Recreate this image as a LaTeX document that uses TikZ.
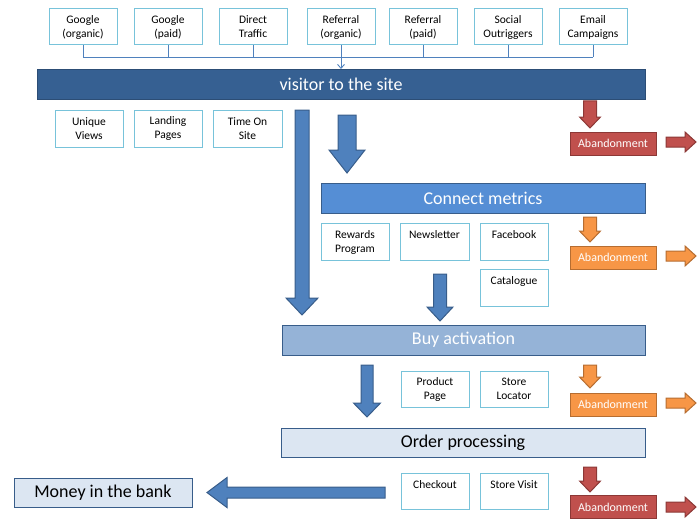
\documentclass[tikz,border=0pt]{standalone}
\usepackage{fontspec}
\setmainfont{Carlito}
\usetikzlibrary{arrows.meta}
\definecolor{darkbar}{RGB}{54,96,146}
\definecolor{darkbord}{RGB}{44,77,117}
\definecolor{arrblue}{RGB}{79,129,189}
\definecolor{arrbord}{RGB}{56,93,138}
\definecolor{connfill}{RGB}{85,142,213}
\definecolor{buyfill}{RGB}{149,179,215}
\definecolor{lightfill}{RGB}{220,230,242}
\definecolor{sbord}{RGB}{120,195,218}
\definecolor{redfill}{RGB}{192,80,77}
\definecolor{redbord}{RGB}{140,56,54}
\definecolor{orfill}{RGB}{247,150,70}
\definecolor{orbord}{RGB}{182,109,49}
\newcommand\bdn[8]{\filldraw[fill=#7,draw=#8,line width=1pt,line join=miter] (#1-#5,#2) -- (#1+#5,#2) -- (#1+#5,#3) -- (#1+#6,#3) -- (#1,#4) -- (#1-#6,#3) -- (#1-#5,#3) -- cycle;}
\newcommand\bhz[8]{\filldraw[fill=#7,draw=#8,line width=1pt,line join=miter] (#1,#4-#5) -- (#2,#4-#5) -- (#2,#4-#6) -- (#3,#4) -- (#2,#4+#6) -- (#2,#4+#5) -- (#1,#4+#5) -- cycle;}
\tikzset{
  sbox/.style={draw=sbord,line width=1pt,fill=white,minimum width=68pt,minimum height=36pt,inner sep=1pt,align=center,font=\fontsize{11.5}{14}\selectfont},
  btxt/.style={inner sep=0pt,align=center,font=\fontsize{11.5}{14}\selectfont,anchor=north},
  bar/.style={line width=1pt,minimum height=30pt,inner sep=0pt,font=\fontsize{18}{21}\selectfont},
  aband/.style={line width=1pt,minimum width=86pt,minimum height=23pt,inner sep=0pt,text=white,font=\fontsize{12}{14}\selectfont},
  conn/.style={draw=arrblue,line width=0.9pt},
}
\begin{document}
\begin{tikzpicture}[x=1pt,y=-1pt]
\useasboundingbox (0,0) rectangle (700,524);
% source boxes
\node[sbox] (g1) at (83,27) {Google\\(organic)};
\node[sbox] (g2) at (168,27) {Google\\(paid)};
\node[sbox] (dt) at (253,27) {Direct\\Traffic};
\node[sbox] (r1) at (341,27) {Referral\\(organic)};
\node[sbox] (r2) at (423,27) {Referral\\(paid)};
\node[sbox] (so) at (508,27) {Social\\Outriggers};
\node[sbox] (em) at (593,27) {Email\\Campaigns};
\coordinate (bus) at (0,57);
% visitor bar
\node[bar,fill=darkbar,draw=darkbord,minimum width=608pt,text=white] (vis) at (341,84.5) {visitor to the site};
\foreach \n in {g1,g2,dt,r2,so,em}{\draw[conn] (\n.south) -- (\n.south |- bus);}
\draw[conn] (g1.south |- bus) -- (em.south |- bus);
\draw[conn,-{Straight Barb[length=4pt,width=7pt]}] (r1.south) -- (r1.south |- vis.north);
% metrics row 1
\node[sbox,minimum height=37pt] (uv) at (89,128.5) {Unique\\Views};
\node[sbox,minimum height=37pt] (lp) at (168,128.5) {Landing\\Pages};
\node[sbox,minimum height=37pt,minimum width=69pt] (ts) at (247.5,128.5) {Time On\\Site};
% big arrows
\bdn{302}{110}{298}{315}{7}{16}{arrblue}{arrbord}
\bdn{347}{115}{150}{173}{9}{18}{arrblue}{arrbord}
% connect metrics
\node[bar,fill=connfill,draw=arrbord,minimum width=324pt,text=white] (cm) at (483,198) {Connect metrics};
\node[sbox,minimum height=37pt] (rp) at (355,241.5) {};
\node[btxt] at ([yshift=-8pt]rp.north) {Rewards\\Program};
\node[sbox,minimum height=37pt,minimum width=69pt] (nl) at (434.5,241.5) {};
\node[btxt] at ([yshift=-8pt]nl.north) {Newsletter};
\node[sbox,minimum height=37pt] (fb) at (514,241.5) {};
\node[btxt] at ([yshift=-8pt]fb.north) {Facebook};
\node[sbox,minimum height=37pt] (ca) at (514,287.5) {};
\node[btxt] at ([yshift=-8pt]ca.north) {Catalogue};
\bdn{440}{274}{307}{321}{6.5}{13}{arrblue}{arrbord}
% buy activation
\node[bar,fill=buyfill,draw=arrbord,minimum width=363pt,text=white] (ba) at (463.5,340) {Buy activation};
\bdn{367}{365}{403}{417}{6}{13.5}{arrblue}{arrbord}
\node[sbox] (pp) at (435,389) {Product\\Page};
\node[sbox] (sl) at (514,389) {Store\\Locator};
% order processing
\node[bar,fill=lightfill,draw=arrbord,minimum width=364pt,minimum height=29pt] (op) at (463,442.5) {Order processing};
\node[sbox] (co) at (435,491) {};
\node[btxt] at ([yshift=-8pt]co.north) {Checkout};
\node[sbox] (sv) at (514,491) {};
\node[btxt] at ([yshift=-8pt]sv.north) {Store Visit};
% money
\node[bar,fill=lightfill,draw=arrbord,minimum width=178pt,minimum height=29pt] (mb) at (103,492.5) {Money in the bank};
\bhz{385}{227}{207}{492.5}{5.5}{15}{arrblue}{arrbord}
% abandonment
\node[aband,fill=redfill,draw=redbord] (a1) at (613,143.5) {Abandonment};
\bdn{590}{101}{117}{128}{6.5}{10.5}{redfill}{redbord}
\bhz{666}{685}{696}{142}{5}{10}{redfill}{redbord}
\node[aband,fill=orfill,draw=orbord] (a2) at (613,257.5) {Abandonment};
\bdn{590}{217}{231}{242}{6.5}{10.5}{orfill}{orbord}
\bhz{666}{685}{696}{256}{5}{10}{orfill}{orbord}
\node[aband,fill=orfill,draw=orbord] (a3) at (613,404.5) {Abandonment};
\bdn{590}{365}{377}{388}{6.5}{10.5}{orfill}{orbord}
\bhz{666}{685}{696}{403}{5}{10}{orfill}{orbord}
\node[aband,fill=redfill,draw=redbord] (a4) at (613,507) {Abandonment};
\bdn{590}{467}{481}{492}{6.5}{10.5}{redfill}{redbord}
\bhz{666}{685}{696}{507}{5}{10}{redfill}{redbord}
\end{tikzpicture}
\end{document}
